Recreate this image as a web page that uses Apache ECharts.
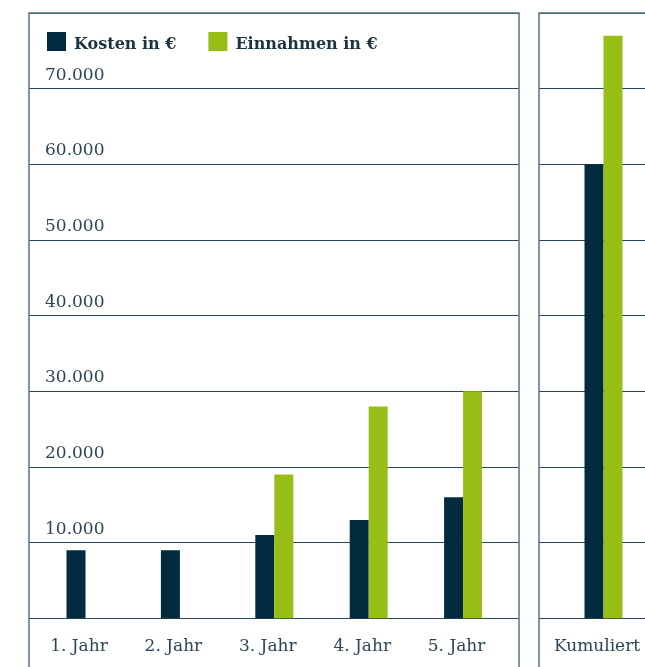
<!DOCTYPE html>
<html><head><meta charset="utf-8">
<script src="https://cdn.jsdelivr.net/npm/echarts@6/dist/echarts.min.js"></script>
<style>html,body{margin:0;padding:0;background:#fff}#c{width:645px;height:667px}</style>
</head><body><div id="c"></div>
<script>
const categories = ['1. Jahr', '2. Jahr', '3. Jahr', '4. Jahr', '5. Jahr'];
const kosten = [9000, 9000, 11000, 13000, 16000];
const einnahmen = [null, null, 19000, 28000, 30000];
const cumCategories = ['Kumuliert'];
const cumKosten = [60000];
const cumEinnahmen = [77000];
const yTicks = [0, 10000, 20000, 30000, 40000, 50000, 60000, 70000, 80000];

const C_K = '#022b3f', C_E = '#97be17';
const GRID = '#2a4656', BORDER = '#5a7282', TXT = '#2c4656';
const FONT = 'DejaVu Serif';
const fmt = v => v.toLocaleString('de-DE');
const TOP = 13, H = 605.3;

const yBase = (gi, labels) => ({
  gridIndex: gi, type: 'value', min: yTicks[0], max: yTicks[yTicks.length-1], interval: yTicks[1]-yTicks[0],
  axisLine: {show: false}, axisTick: {show: false},
  splitLine: {show: labels !== null, lineStyle: {color: GRID, width: 1}},
  axisLabel: labels ? {show: true, inside: true, margin: 16, verticalAlign: 'bottom', padding: [0,0,5,0],
    showMinLabel: false, showMaxLabel: false, color: TXT, fontFamily: FONT, fontSize: 17, formatter: fmt} : {show: false}
});
const xCat = (gi, data) => ({
  gridIndex: gi, type: 'category', data: data,
  axisLine: {show: false}, axisTick: {show: false}, splitLine: {show: false},
  axisLabel: {show: true, margin: 20, padding: [0,13,0,0], color: TXT, fontFamily: FONT, fontSize: 17}
});
const xHidden = gi => ({gridIndex: gi, type: 'category', data: [''], show: false});

const chart = echarts.init(document.getElementById('c'), null, {renderer: 'canvas'});
chart.setOption({
  animation: false,
  textStyle: {fontFamily: FONT},
  legend: {
    left: 47, top: 32, padding: 0, itemWidth: 19, itemHeight: 19, itemGap: 32, icon: 'rect',
    formatter: name => '{t|' + name + '}',
    textStyle: {color: '#1b3343', fontFamily: FONT, fontWeight: 'bold', fontSize: 16,
      rich: {t: {color: '#1b3343', fontFamily: FONT, fontWeight: 'bold', fontSize: 16, padding: [7,0,0,3]}}},
    data: ['Kosten in €', 'Einnahmen in €']
  },
  grid: [
    {left: 29, top: TOP, width: 490, height: H},
    {left: 38.3, top: TOP, width: 472, height: H},
    {left: 539, top: TOP, width: 200, height: H},
    {left: 562, top: TOP, width: 94.4, height: H}
  ],
  xAxis: [xHidden(0), xCat(1, categories), xHidden(2), xCat(3, cumCategories)],
  yAxis: [yBase(0, true), yBase(1, null), yBase(2, false), yBase(3, null)],
  graphic: [
    {type: 'rect', shape: {x: 29, y: 13, width: 490, height: 700}, style: {fill: 'none', stroke: BORDER, lineWidth: 1.5}, z: 10},
    {type: 'rect', shape: {x: 539, y: 13, width: 200, height: 700}, style: {fill: 'none', stroke: BORDER, lineWidth: 1.5}, z: 10}
  ],
  series: [
    {name: 'Kosten in €', type: 'bar', xAxisIndex: 1, yAxisIndex: 1, data: kosten, barWidth: 19, barGap: '0%', itemStyle: {color: C_K}},
    {name: 'Einnahmen in €', type: 'bar', xAxisIndex: 1, yAxisIndex: 1, data: einnahmen, barWidth: 19, barGap: '0%', itemStyle: {color: C_E}},
    {name: 'Kosten in €', type: 'bar', xAxisIndex: 3, yAxisIndex: 3, data: cumKosten, barWidth: 19, barGap: '0%', itemStyle: {color: C_K}},
    {name: 'Einnahmen in €', type: 'bar', xAxisIndex: 3, yAxisIndex: 3, data: cumEinnahmen, barWidth: 19, barGap: '0%', itemStyle: {color: C_E}}
  ]
});
</script></body></html>
